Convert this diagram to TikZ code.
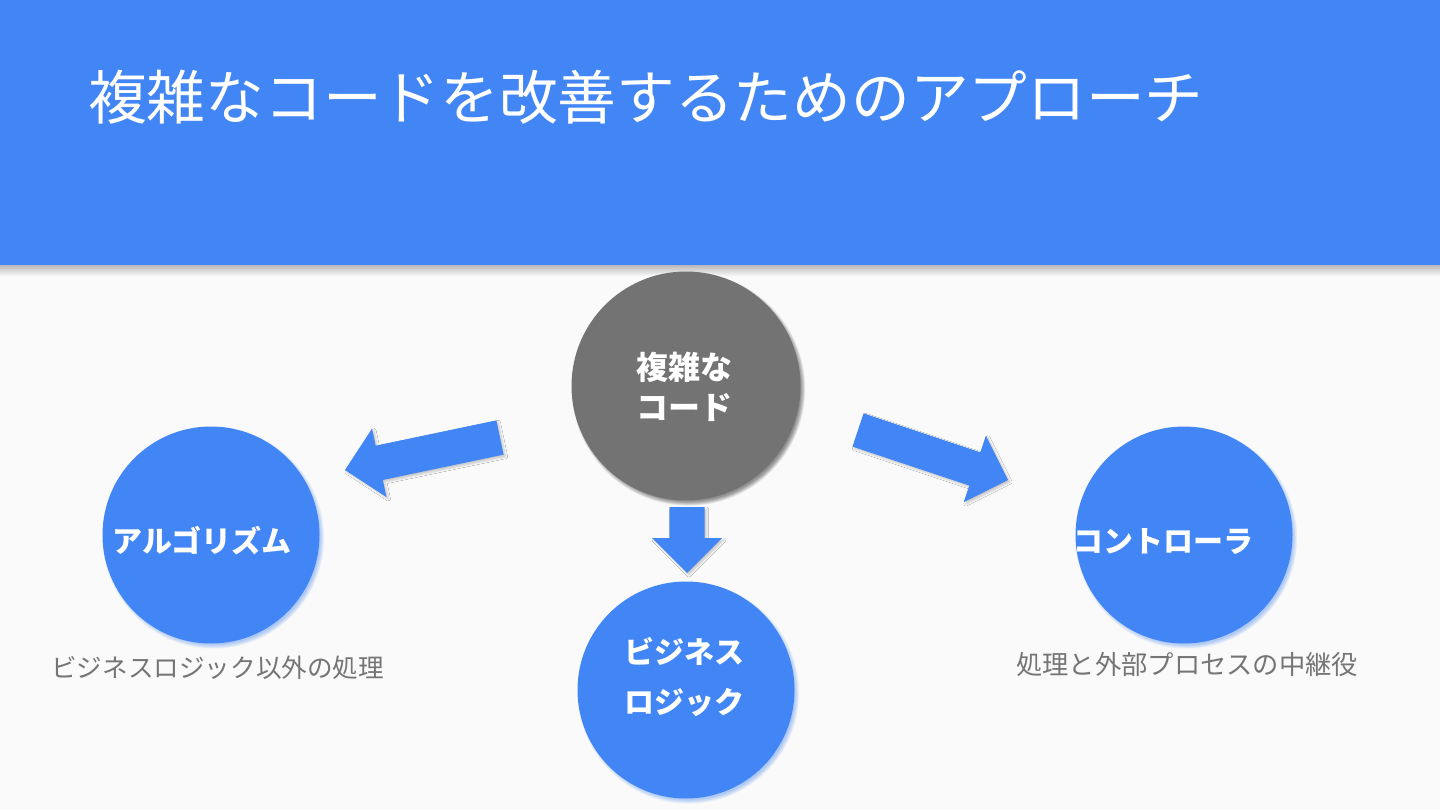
\documentclass[tikz,border=0pt]{standalone}
\usepackage{fontspec}
\setmainfont{Noto Sans CJK JP}
\usetikzlibrary{calc,shadows.blur}
\definecolor{gblue}{HTML}{4285F4}
\definecolor{bgc}{HTML}{FAFAFA}
\definecolor{cgray}{HTML}{737373}
\definecolor{tgray}{HTML}{757575}
\tikzset{
  bluecirc/.style={circle, fill=gblue, minimum size=217pt, inner sep=0pt},
  graycirc/.style={circle, fill=cgray, minimum size=229pt, inner sep=0pt},
  clabel/.style={text=white, font=\fontsize{30}{50}\selectfont\bfseries, align=center, inner sep=0pt},
  sublabel/.style={text=tgray, font=\fontsize{26}{30}\selectfont, inner sep=0pt},
  arrowfill/.style={fill=gblue, blur shadow={shadow xshift=2pt, shadow yshift=-2pt, shadow blur radius=2pt, shadow blur steps=6, shadow opacity=20}},
  glow/.style={fill=#1, opacity=0.07},
}
\newcommand\blockarrow[2]{%
  \coordinate (#1h) at ($(#2)!35pt!(#1)$);
  \path[arrowfill] ($(#1)!17.5pt!90:(#2)$) -- ($(#1h)!17.5pt!90:(#2)$) -- ($(#1h)!35pt!90:(#2)$) -- (#2)
    -- ($(#1h)!35pt!-90:(#2)$) -- ($(#1h)!17.5pt!-90:(#2)$) -- ($(#1)!17.5pt!-90:(#2)$) -- cycle;
}
\newcommand\circglow[3]{% center, radius, colour
  \foreach \d in {0.5,1.2,...,4.7} {\fill[glow=#3] ($(#1)+(2.5,3)$) circle ({#2+\d});}
}
\begin{document}
\begin{tikzpicture}[x=1pt,y=-1pt]
\useasboundingbox (0,0) rectangle (1440,810);
\fill[bgc] (0,0) rectangle (1440,810);
\shade[top color=black!30, bottom color=bgc] (0,264) rectangle (1440,276);
\fill[gblue] (0,0) rectangle (1440,265);
\node[anchor=west, text=white, font=\fontsize{58.7}{64}\selectfont, inner sep=0pt] (title) at (88,97) {複雑なコードを改善するためのアプローチ};

% circle centres and soft shadows
\coordinate (codeC) at (686,386);
\coordinate (algoC) at (211,535);
\coordinate (ctrlC) at (1184,535);
\coordinate (bizC) at (686,690);
\circglow{codeC}{112}{black}
\circglow{algoC}{106}{gblue}
\circglow{ctrlC}{106}{gblue}
\circglow{bizC}{106}{gblue}

% circles
\node[graycirc] (code) at (codeC) {};
\node[bluecirc] (algo) at (algoC) {};
\node[bluecirc] (ctrl) at (ctrlC) {};
\node[bluecirc] (biz) at (bizC) {};

% labels
\node[clabel, font=\fontsize{32}{40}\selectfont\bfseries] (codeL) at (684,387) {複雑な\\コード};
\node[clabel] (algoL) at (202,541) {アルゴリズム};
\node[clabel] (ctrlL) at (1163,542) {コントローラ};
\node[clabel] (bizL) at (684,677) {ビジネス\\ロジック};

\node[sublabel, anchor=west, font=\fontsize{25.6}{30}\selectfont] (algoS) at (51,668) {ビジネスロジック以外の処理};
\node[sublabel, anchor=west, font=\fontsize{26.3}{30}\selectfont] (ctrlS) at (1016,665) {処理と外部プロセスの中継役};

% arrows
\coordinate (la) at (500,437.5);
\coordinate (lb) at (345,470);
\coordinate (ra) at (858,430);
\coordinate (rb) at (1008,480);
\coordinate (da) at (687,507);
\coordinate (db) at (687,573);
\blockarrow{la}{lb}
\blockarrow{ra}{rb}
\blockarrow{da}{db}
\end{tikzpicture}
\end{document}
